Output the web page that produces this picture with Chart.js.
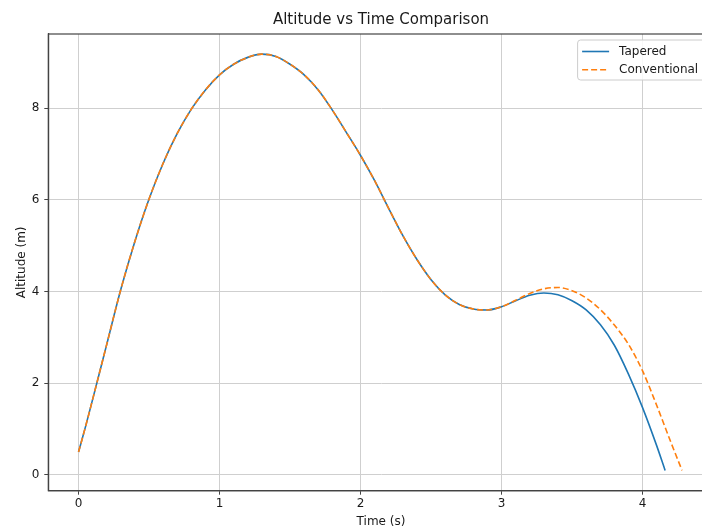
<!DOCTYPE html>
<html>
<head>
<meta charset="utf-8">
<script src="https://cdn.jsdelivr.net/npm/chart.js@4.4.1/dist/chart.umd.min.js"></script>
<style>
html, body { margin: 0; padding: 0; overflow: hidden; background: #fff; width: 702px; height: 527px; }
#altChart { display: block; }
</style>
</head>
<body>
<canvas id="altChart" width="720" height="540" style="width:720px;height:540px"></canvas>
<script>
// values
const tapTime = [0, 0.05, 0.1, 0.2, 0.3, 0.4, 0.5, 0.6, 0.7, 0.8, 0.9, 1.0, 1.1, 1.2, 1.3,
  1.4, 1.5, 1.6, 1.7, 1.8, 1.9, 2.0, 2.1, 2.2, 2.3, 2.4, 2.5, 2.6, 2.7, 2.8, 2.9, 3.0, 3.1,
  3.2, 3.3, 3.4, 3.5, 3.6, 3.7, 3.8, 3.9, 4.0, 4.1, 4.16];
const tapAlt = [0.5, 1.06, 1.65, 2.85, 4.05, 5.1, 6.02, 6.8, 7.45, 7.98, 8.4, 8.73, 8.96, 9.11, 9.18,
  9.13, 8.96, 8.73, 8.4, 7.96, 7.47, 6.97, 6.42, 5.81, 5.22, 4.7, 4.26, 3.93, 3.72, 3.62, 3.6, 3.67, 3.8,
  3.92, 3.97, 3.93, 3.8, 3.6, 3.28, 2.83, 2.2, 1.47, 0.64, 0.1];

const convTime = [0, 0.05, 0.1, 0.2, 0.3, 0.4, 0.5, 0.6, 0.7, 0.8, 0.9, 1.0, 1.1, 1.2, 1.3,
  1.4, 1.5, 1.6, 1.7, 1.8, 1.9, 2.0, 2.1, 2.2, 2.3, 2.4, 2.5, 2.6, 2.7, 2.8, 2.9, 3.0, 3.1,
  3.2, 3.3, 3.4, 3.5, 3.6, 3.7, 3.8, 3.9, 4.0, 4.1, 4.2, 4.28];
const convAlt = [0.5, 1.06, 1.65, 2.85, 4.05, 5.1, 6.02, 6.8, 7.45, 7.98, 8.4, 8.73, 8.96, 9.11, 9.18,
  9.13, 8.96, 8.73, 8.4, 7.96, 7.47, 6.97, 6.42, 5.81, 5.22, 4.7, 4.26, 3.93, 3.72, 3.62, 3.6, 3.67, 3.81,
  3.96, 4.06, 4.09, 4.02, 3.86, 3.61, 3.27, 2.85, 2.27, 1.52, 0.72, 0.1];

const xTicks = [0, 1, 2, 3, 4];
const yTicks = [0, 2, 4, 6, 8];

const FONT = '"DejaVu Sans", sans-serif';
const TEXT = '#1a1a1a';
const SPINE = '#444444';
const GRID = '#cfcfcf';

Chart.defaults.font.family = FONT;
Chart.defaults.color = TEXT;

function toPoints(xs, ys){
  return xs.map((x, i) => ({x: x, y: ys[i]}));
}

// frame on all four sides, like matplotlib spines
const frame = {
  id: 'frame',
  afterDatasetsDraw(chart){
    const a = chart.chartArea;
    const ctx = chart.ctx;
    ctx.save();
    ctx.strokeStyle = SPINE;
    ctx.lineWidth = 1.2;
    ctx.strokeRect(a.left, a.top, a.right - a.left, a.bottom - a.top);
    ctx.restore();
  }
};

// legend box in the upper right of the plot
const legendBox = {
  id: 'legendBox',
  afterDatasetsDraw(chart){
    const ctx = chart.ctx;
    const a = chart.chartArea;
    const sets = chart.data.datasets;
    ctx.save();
    ctx.font = '12px ' + FONT;
    const textW = Math.max(...sets.map(d => ctx.measureText(d.label).width));
    const right = a.right - 7;
    const left = right - textW - 50;
    const top = a.top + 6;
    const h = 40;
    ctx.fillStyle = 'rgba(255,255,255,0.85)';
    ctx.strokeStyle = '#cccccc';
    ctx.lineWidth = 1;
    ctx.beginPath();
    ctx.roundRect(left, top, right - left, h, 3);
    ctx.fill();
    ctx.stroke();
    sets.forEach((d, i) => {
      const y = top + 11.5 + i * 18.3;
      ctx.strokeStyle = d.borderColor;
      ctx.lineWidth = d.borderWidth;
      ctx.setLineDash(d.borderDash || []);
      ctx.beginPath();
      ctx.moveTo(left + 4.5, y);
      ctx.lineTo(left + 31.5, y);
      ctx.stroke();
      ctx.setLineDash([]);
      ctx.fillStyle = TEXT;
      ctx.textBaseline = 'middle';
      ctx.textAlign = 'left';
      ctx.fillText(d.label, left + 41.5, y);
    });
    ctx.restore();
  }
};

const chart = new Chart(document.getElementById('altChart'), {
  type: 'line',
  data: {
    datasets: [
      {
        label: 'Tapered',
        data: toPoints(tapTime, tapAlt),
        borderColor: '#1f77b4',
        borderWidth: 1.6,
        pointRadius: 0,
        fill: false,
        order: 1,
        cubicInterpolationMode: 'monotone'
      },
      {
        label: 'Conventional',
        data: toPoints(convTime, convAlt),
        borderColor: '#ff7f0e',
        borderWidth: 1.6,
        borderDash: [6, 3],
        pointRadius: 0,
        fill: false,
        order: 0,
        cubicInterpolationMode: 'monotone'
      }
    ]
  },
  options: {
    responsive: false,
    animation: false,
    events: [],
    layout: {padding: {left: 0, right: 6.3, top: 0, bottom: 9.3}},
    plugins: {
      legend: {display: false},
      tooltip: {enabled: false},
      title: {
        display: true,
        text: 'Altitude vs Time Comparison',
        fullSize: false,
        color: TEXT,
        font: {size: 15, weight: 'normal', family: FONT},
        padding: {top: 11.5, bottom: 4.5}
      }
    },
    scales: {
      x: {
        type: 'linear',
        min: -0.2145,
        max: 4.5045,
        afterBuildTicks: s => { s.ticks = xTicks.map(v => ({value: v})); },
        afterFit: s => { s.height = 40; },
        grid: {color: GRID, lineWidth: 1, tickColor: SPINE, tickLength: 4},
        border: {display: true, color: SPINE, width: 1.2},
        ticks: {color: TEXT, font: {size: 12}, padding: 2, maxRotation: 0},
        title: {display: true, text: 'Time (s)', color: TEXT, font: {size: 12}, padding: {top: 0, bottom: 1.8}}
      },
      y: {
        type: 'linear',
        min: -0.343,
        max: 9.62,
        afterBuildTicks: s => { s.ticks = yTicks.map(v => ({value: v})); },
        afterFit: s => { s.width = 48.3; },
        grid: {color: GRID, lineWidth: 1, tickColor: SPINE, tickLength: 4},
        border: {display: true, color: SPINE, width: 1.2},
        ticks: {color: TEXT, font: {size: 12}, padding: 5},
        title: {display: true, text: 'Altitude (m)', color: TEXT, font: {size: 12}, padding: {top: 14.5, bottom: 0}}
      }
    }
  },
  plugins: [frame, legendBox]
});
</script>
</body>
</html>
